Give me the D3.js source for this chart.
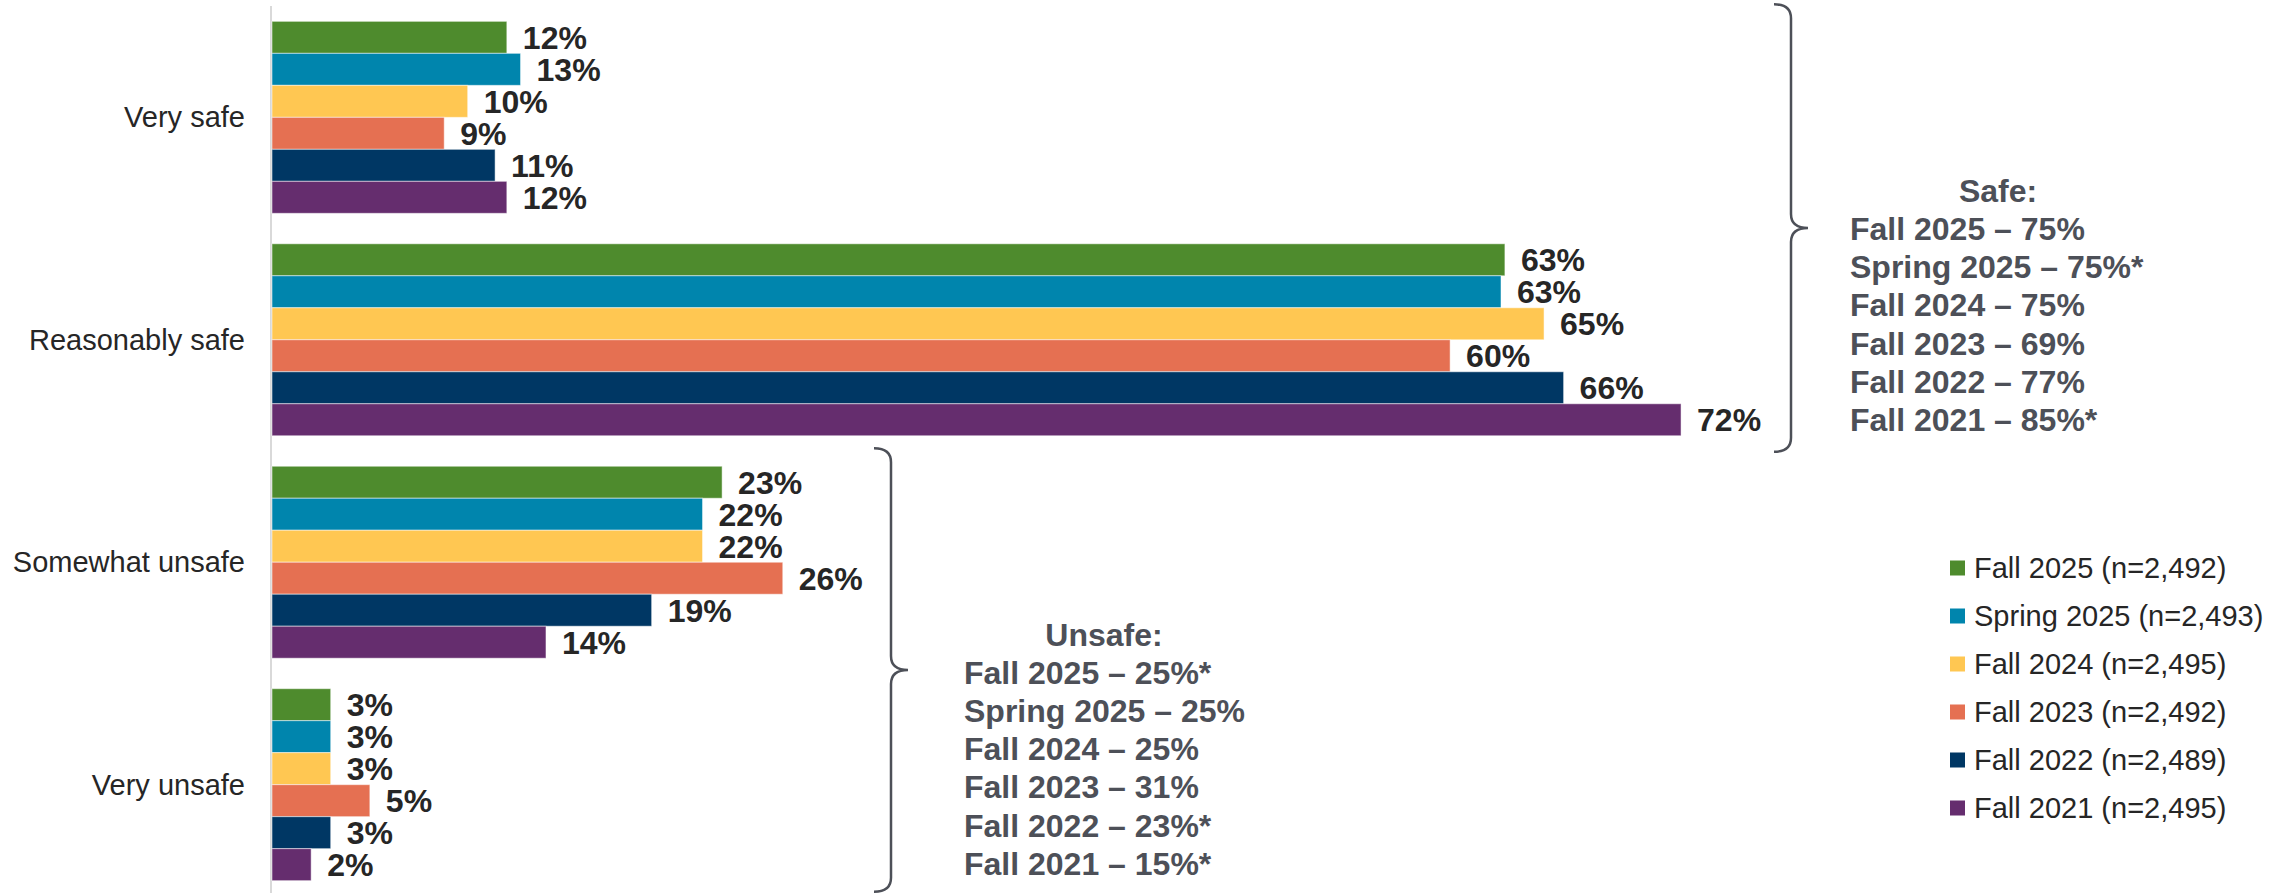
<!DOCTYPE html>
<html>
<head>
<meta charset="utf-8">
<script src="https://cdn.jsdelivr.net/npm/d3@7"></script>
<style>
  body { margin: 0; background: #fff; }
  svg { display: block; font-family: Arial, "Liberation Sans", sans-serif; }
</style>
</head>
<body>
<div id="chart"></div>
<script>
const categories = ['Very safe', 'Reasonably safe', 'Somewhat unsafe', 'Very unsafe'];
const seriesNames = ['Fall 2025 (n=2,492)', 'Spring 2025 (n=2,493)', 'Fall 2024 (n=2,495)',
    'Fall 2023 (n=2,492)', 'Fall 2022 (n=2,489)', 'Fall 2021 (n=2,495)'];
const colors = ['#4e8b2d', '#0085ad', '#ffc752', '#e57052', '#003764', '#652d6e'];

// one array per series, in category order (bar lengths as read; labels show rounded %)
const fall2025 = [12, 63, 23, 3];
const spring2025 = [12.7, 62.8, 22, 3];
const fall2024 = [10, 65, 22, 3];
const fall2023 = [8.8, 60.2, 26.1, 5];
const fall2022 = [11.4, 66, 19.4, 3];
const fall2021 = [12, 72, 14, 2];
const seriesValues = [fall2025, spring2025, fall2024, fall2023, fall2022, fall2021];

const safeTitle = 'Safe:';
const safeLines = ['Fall 2025 – 75%', 'Spring 2025 – 75%*', 'Fall 2024 – 75%',
    'Fall 2023 – 69%', 'Fall 2022 – 77%', 'Fall 2021 – 85%*'];
const unsafeTitle = 'Unsafe:';
const unsafeLines = ['Fall 2025 – 25%*', 'Spring 2025 – 25%', 'Fall 2024 – 25%',
    'Fall 2023 – 31%', 'Fall 2022 – 23%*', 'Fall 2021 – 15%*'];

const width = 2295;
const height = 893;

const svg = d3.select('#chart').append('svg')
    .attr('width', width)
    .attr('height', height);

const x = d3.scaleLinear().domain([0, 100]).range([272, 272 + 1957]);

const y = d3.scaleBand()
    .domain(categories)
    .range([6.1, 895.9])
    .paddingInner(0.137)
    .paddingOuter(0.0685);

const ySeries = d3.scaleBand()
    .domain(d3.range(seriesNames.length))
    .range([0, y.bandwidth()]);

// vertical axis line
svg.append('line')
    .attr('x1', x(0) - 1).attr('x2', x(0) - 1)
    .attr('y1', 6).attr('y2', height)
    .attr('stroke', '#d9d9d9')
    .attr('stroke-width', 2);

// category labels
svg.selectAll('.cat')
    .data(categories)
    .enter().append('text')
    .attr('class', 'cat')
    .attr('x', 245)
    .attr('y', d => y(d) + y.bandwidth() / 2)
    .attr('dy', '0.35em')
    .attr('text-anchor', 'end')
    .attr('font-size', 29)
    .attr('fill', '#262626')
    .text(d => d);

// flatten into bar records
const bars = [];
seriesValues.forEach((vals, si) => {
    vals.forEach((v, ci) => {
        bars.push({ cat: categories[ci], series: si, value: v });
    });
});

svg.selectAll('.bar')
    .data(bars)
    .enter().append('rect')
    .attr('class', 'bar')
    .attr('x', x(0))
    .attr('y', d => y(d.cat) + ySeries(d.series))
    .attr('width', d => x(d.value) - x(0))
    .attr('height', ySeries.bandwidth())
    .attr('fill', d => colors[d.series])
    .attr('stroke', '#ffffff')
    .attr('stroke-opacity', 0.5)
    .attr('stroke-width', 1);

svg.selectAll('.val')
    .data(bars)
    .enter().append('text')
    .attr('class', 'val')
    .attr('x', d => x(d.value) + 16)
    .attr('y', d => y(d.cat) + ySeries(d.series) + ySeries.bandwidth() / 2)
    .attr('dy', '0.36em')
    .attr('font-size', 32)
    .attr('font-weight', 'bold')
    .attr('fill', '#262626')
    .text(d => Math.round(d.value) + '%');

// braces
function bracePath(xv, y0, yt, y1) {
    const w = 17, r = 14;
    return `M${xv - w},${y0} Q${xv},${y0} ${xv},${y0 + r} L${xv},${yt - r} ` +
        `Q${xv},${yt} ${xv + w},${yt} Q${xv},${yt} ${xv},${yt + r} ` +
        `L${xv},${y1 - r} Q${xv},${y1} ${xv - w},${y1}`;
}

const safeTop = y('Very safe') - 17;
const safeBottom = y('Reasonably safe') + y.bandwidth() + 16;
svg.append('path')
    .attr('d', bracePath(1791, safeTop, (safeTop + safeBottom) / 2, safeBottom))
    .attr('fill', 'none')
    .attr('stroke', '#4d5058')
    .attr('stroke-width', 2.5);

const unsafeTop = y('Somewhat unsafe') - 18;
const unsafeBottom = y('Very unsafe') + y.bandwidth() + 11;
svg.append('path')
    .attr('d', bracePath(891, unsafeTop, (unsafeTop + unsafeBottom) / 2, unsafeBottom))
    .attr('fill', 'none')
    .attr('stroke', '#4d5058')
    .attr('stroke-width', 2.5);

// summary text blocks
function summary(title, lines, left, titleX, titleY, step) {
    const g = svg.append('g')
        .attr('font-size', 32)
        .attr('font-weight', 'bold')
        .attr('fill', '#4d5058');
    g.append('text')
        .attr('x', titleX)
        .attr('y', titleY)
        .attr('dy', '0.36em')
        .attr('text-anchor', 'middle')
        .text(title);
    g.selectAll('.line')
        .data(lines)
        .enter().append('text')
        .attr('x', left)
        .attr('y', (d, i) => titleY + step * (i + 1))
        .attr('dy', '0.36em')
        .text(d => d);
}

summary(safeTitle, safeLines, 1850, 1998, 190, 38.3);
summary(unsafeTitle, unsafeLines, 964, 1104, 634, 38.2);

// legend
const legend = svg.append('g');
seriesNames.forEach((name, i) => {
    const cy = 568 + i * 48;
    legend.append('rect')
        .attr('x', 1950)
        .attr('y', cy - 7.5)
        .attr('width', 15)
        .attr('height', 15)
        .attr('fill', colors[i]);
    legend.append('text')
        .attr('x', 1974)
        .attr('y', cy)
        .attr('dy', '0.35em')
        .attr('font-size', 29)
        .attr('fill', '#262626')
        .text(name);
});
</script>
</body>
</html>
